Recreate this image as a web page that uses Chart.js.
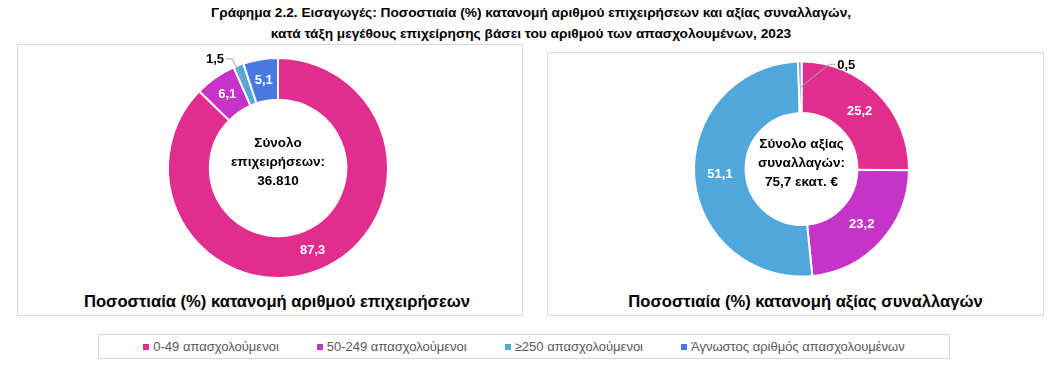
<!DOCTYPE html>
<html>
<head>
<meta charset="utf-8">
<script src="https://cdn.jsdelivr.net/npm/chart.js@4.4.0/dist/chart.umd.min.js"></script>
<style>
    body { margin: 0; background: #fff; font-family: "Liberation Sans", Arial, sans-serif; }
    #page { position: relative; width: 1062px; height: 373px; overflow: hidden; }
    #title { position: absolute; left: 0; top: 2px; width: 1062px; text-align: center;
        font-weight: bold; font-size: 13.7px; line-height: 21px; color: #000; }
    .panel { position: absolute; border: 1px solid #d9d9d9; box-sizing: border-box; }
    .panel canvas { position: absolute; left: 0; top: 0; }
    .subtitle { position: absolute; left: 0; width: 100%; text-align: center; box-sizing: border-box;
        font-weight: bold; font-size: 16.6px; color: #000; }
    #legend { position: absolute; left: 98px; top: 334px; width: 852px; height: 25px;
        border: 1px solid #d9d9d9; box-sizing: border-box; display: flex;
        justify-content: center; align-items: center; gap: 38px; font-size: 13px; color: #595959; }
    #legend span.box { display: inline-block; width: 6px; height: 6px; margin-right: 4px; vertical-align: 1px; }
</style>
</head>
<body>
<div id="page">
    <div id="title">Γράφημα 2.2. Εισαγωγές: Ποσοστιαία (%) κατανομή αριθμού επιχειρήσεων και αξίας συναλλαγών,<br>κατά τάξη μεγέθους επιχείρησης βάσει του αριθμού των απασχολουμένων, 2023</div>

    <div class="panel" id="panel_firms" style="left:17px; top:44px; width:506px; height:272px;">
        <canvas id="firms_canvas"></canvas>
        <div class="subtitle" style="top:247px; padding-left:14px;">Ποσοστιαία (%) κατανομή αριθμού επιχειρήσεων</div>
    </div>

    <div class="panel" id="panel_trade" style="left:547px; top:52px; width:497px; height:264px;">
        <canvas id="trade_canvas"></canvas>
        <div class="subtitle" style="top:239px; padding-left:20px;">Ποσοστιαία (%) κατανομή αξίας συναλλαγών</div>
    </div>

    <div id="legend"></div>
</div>

<script>
// size classes (number of employees)
const categories = ['0-49 απασχολούμενοι', '50-249 απασχολούμενοι', '≥250 απασχολούμενοι', 'Άγνωστος αριθμός απασχολουμένων'];
// % of firms
const firmsShare = [87.3, 6.1, 1.5, 5.1];
// % of trade value
const tradeShare = [25.2, 23.2, 51.1, 0.5];
const firmsCenterText = ['Σύνολο', 'επιχειρήσεων:', '36.810'];
const tradeCenterText = ['Σύνολο αξίας', 'συναλλαγών:', '75,7 εκατ. €'];

const colors = ['#E12E8E', '#C633C8', '#4FA7DC', '#4A78E2'];

function fmt(v) {
    return v.toFixed(1).replace('.', ',');
}

// draws the value labels on the ring and the text in the hole
const donutText = {
    id: 'donutText',
    afterDatasetsDraw(chart, args, opts) {
        const ctx = chart.ctx;
        const meta = chart.getDatasetMeta(0);
        const values = chart.data.datasets[0].data;
        let cx = 0, cy = 0;

        ctx.save();
        ctx.font = 'bold 13px "Liberation Sans", Arial, sans-serif';
        ctx.textBaseline = 'middle';

        meta.data.forEach((arc, i) => {
            const p = arc.getProps(['x', 'y', 'startAngle', 'endAngle', 'innerRadius', 'outerRadius'], true);
            cx = p.x; cy = p.y;
            const mid = (p.startAngle + p.endAngle) / 2;
            const r = (p.innerRadius + p.outerRadius) / 2;
            const x = p.x + Math.cos(mid) * r;
            const y = p.y + Math.sin(mid) * r;

            if (values[i] < opts.minInside) {
                const l = opts.leader;
                const ex = x + l.dx, ey = y + l.dy;
                const hx = ex + l.side * 6;
                ctx.strokeStyle = '#a6a6a6';
                ctx.lineWidth = 1;
                ctx.beginPath();
                ctx.moveTo(x, y);
                ctx.lineTo(ex, ey);
                ctx.lineTo(hx, ey);
                ctx.stroke();
                ctx.fillStyle = '#000';
                ctx.textAlign = l.side < 0 ? 'right' : 'left';
                ctx.fillText(fmt(values[i]), hx + l.side * 2, ey + 1);
            } else {
                ctx.fillStyle = '#fff';
                ctx.textAlign = 'center';
                ctx.fillText(fmt(values[i]), x, y);
            }
        });

        ctx.fillStyle = '#000';
        ctx.textAlign = 'center';
        ctx.font = 'bold 13.5px "Liberation Sans", Arial, sans-serif';
        opts.center.forEach((line, k) => {
            ctx.fillText(line, cx, cy - 25 + k * 19);
        });
        ctx.restore();
    }
};

function makeDonut(canvasId, values, cutout, padding, centerText, leader) {
    const ctx = document.getElementById(canvasId).getContext('2d');
    return new Chart(ctx, {
        type: 'doughnut',
        data: {
            labels: categories,
            datasets: [{
                data: values,
                backgroundColor: colors,
                borderColor: '#ffffff',
                borderWidth: 2
            }]
        },
        options: {
            responsive: false,
            animation: false,
            cutout: cutout,
            layout: { padding: padding },
            plugins: {
                legend: { display: false },
                tooltip: { enabled: false },
                donutText: { minInside: 2, center: centerText, leader: leader }
            }
        },
        plugins: [donutText]
    });
}

const firmsCanvas = document.getElementById('firms_canvas');
firmsCanvas.width = 504; firmsCanvas.height = 240;
const tradeCanvas = document.getElementById('trade_canvas');
tradeCanvas.width = 495; tradeCanvas.height = 236;

makeDonut('firms_canvas', firmsShare, '62%',
    { left: 149, right: 133, top: 12, bottom: 6 },
    firmsCenterText, { dx: -14, dy: -26, side: -1 });

makeDonut('trade_canvas', tradeShare, '52%',
    { left: 145, right: 133, top: 7, bottom: 11 },
    tradeCenterText, { dx: 29, dy: -23, side: 1 });

// shared legend
const legend = document.getElementById('legend');
categories.forEach((cat, i) => {
    const item = document.createElement('div');
    item.innerHTML = `<span class="box" style="background:${colors[i]}"></span>${cat}`;
    legend.appendChild(item);
});
</script>
</body>
</html>
